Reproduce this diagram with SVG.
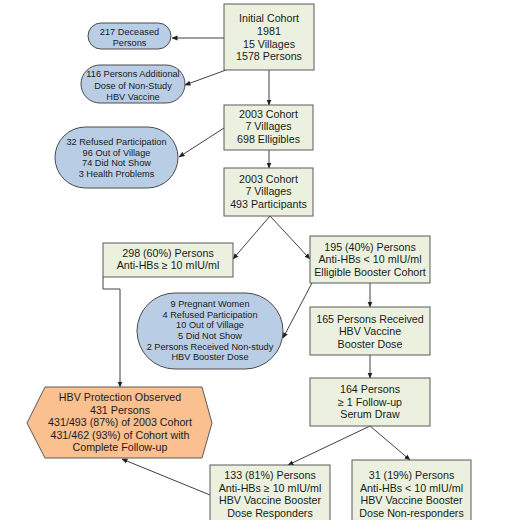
<svg xmlns="http://www.w3.org/2000/svg" width="507" height="520" viewBox="0 0 507 520">
<style>
.box{fill:#EBF1DE;stroke:#5a5a5a;stroke-width:1}
.oval{fill:#B9CDE5;stroke:#4a4a4a;stroke-width:1}
.hex{fill:#FAC090;stroke:#5a5a5a;stroke-width:1}
.t{font-family:"Liberation Sans",Arial,sans-serif;font-size:10.7px;fill:#1a1a1a;text-anchor:middle}
.s{font-family:"Liberation Sans",Arial,sans-serif;font-size:9.2px;fill:#1a1a1a;text-anchor:middle}
.c{fill:none;stroke:#404040;stroke-width:1;marker-end:url(#ah)}
</style>
<defs>
<marker id="ah" markerUnits="userSpaceOnUse" markerWidth="6" markerHeight="6" refX="5.5" refY="3" orient="auto">
<path d="M0,0.5 L6,3 L0,5.5 z" fill="#202020"/>
</marker>
</defs>
<rect width="507" height="520" fill="#ffffff"/>
<g id="connectors">
<line class="c" x1="224" y1="38" x2="172" y2="38"/>
<line class="c" x1="226" y1="70" x2="185" y2="85"/>
<line class="c" x1="269" y1="70" x2="269" y2="105"/>
<line class="c" x1="224" y1="128" x2="179" y2="157"/>
<line class="c" x1="269" y1="150" x2="269" y2="168"/>
<line class="c" x1="270" y1="216" x2="233" y2="259"/>
<line class="c" x1="270" y1="216" x2="310" y2="259"/>
<polyline class="c" points="103,277 103,289 120,289 120,387"/>
<line class="c" x1="370" y1="283" x2="370" y2="307"/>
<line class="c" x1="312" y1="283" x2="283" y2="338"/>
<line class="c" x1="370" y1="355" x2="370" y2="378"/>
<line class="c" x1="370" y1="426" x2="288" y2="465"/>
<line class="c" x1="370" y1="426" x2="410" y2="460"/>
<line class="c" x1="210" y1="495" x2="122" y2="459"/>
</g>
<g id="initial">
<rect class="box" x="224" y="4" width="90" height="66"/>
<text class="t" x="269" y="22.3">Initial Cohort</text>
<text class="t" x="269" y="34.9">1981</text>
<text class="t" x="269" y="47.5">15 Villages</text>
<text class="t" x="269" y="60.1">1578 Persons</text>
</g>
<g id="deceased">
<rect class="oval" x="88" y="23" width="83" height="26" rx="13"/>
<text class="s" x="129.5" y="35">217 Deceased</text>
<text class="s" x="129.5" y="46">Persons</text>
</g>
<g id="additional">
<rect class="oval" x="81" y="65" width="104" height="38" rx="19"/>
<text class="s" x="133" y="77.3">116 Persons Additional</text>
<text class="s" x="133" y="89">Dose of Non-Study</text>
<text class="s" x="133" y="100.3">HBV Vaccine</text>
</g>
<g id="cohort2003a">
<rect class="box" x="224" y="105" width="89" height="45"/>
<text class="t" x="268.5" y="118">2003 Cohort</text>
<text class="t" x="268.5" y="130.3">7 Villages</text>
<text class="t" x="268.5" y="143">698 Elligibles</text>
</g>
<g id="refused">
<rect class="oval" x="55" y="127" width="123" height="61" rx="30.5"/>
<text class="s" x="116.5" y="145.3">32 Refused Participation</text>
<text class="s" x="116.5" y="155.8">96 Out of Village</text>
<text class="s" x="116.5" y="166.3">74 Did Not Show</text>
<text class="s" x="116.5" y="176.8">3 Health Problems</text>
</g>
<g id="cohort2003b">
<rect class="box" x="224" y="168" width="89" height="48"/>
<text class="t" x="268.5" y="183">2003 Cohort</text>
<text class="t" x="268.5" y="195.3">7 Villages</text>
<text class="t" x="268.5" y="207.6">493 Participants</text>
</g>
<g id="protected298">
<rect class="box" x="103" y="243" width="130" height="34"/>
<text class="t" x="168" y="257">298 (60%) Persons</text>
<text class="t" x="168" y="269.3">Anti-HBs ≥ 10 mIU/ml</text>
</g>
<g id="eligible195">
<rect class="box" x="310" y="236" width="120" height="47"/>
<text class="t" x="370" y="251">195 (40%) Persons</text>
<text class="t" x="370" y="263.3">Anti-HBs &lt; 10 mIU/ml</text>
<text class="t" x="370" y="275.6">Elligible Booster Cohort</text>
</g>
<g id="excluded">
<rect class="oval" x="137" y="293" width="146" height="76" rx="38"/>
<text class="s" x="210" y="306.8">9 Pregnant Women</text>
<text class="s" x="210" y="317.5">4 Refused Participation</text>
<text class="s" x="210" y="328.2">10 Out of Village</text>
<text class="s" x="210" y="338.9">5 Did Not Show</text>
<text class="s" x="210" y="349.6">2 Persons Received Non-study</text>
<text class="s" x="210" y="360.3">HBV Booster Dose</text>
</g>
<g id="received165">
<rect class="box" x="310" y="307" width="120" height="48"/>
<text class="t" x="370" y="322.5">165 Persons Received</text>
<text class="t" x="370" y="335">HBV Vaccine</text>
<text class="t" x="370" y="347.5">Booster Dose</text>
</g>
<g id="followup164">
<rect class="box" x="310" y="378" width="120" height="48"/>
<text class="t" x="370" y="393">164 Persons</text>
<text class="t" x="370" y="405.5">≥ 1 Follow-up</text>
<text class="t" x="370" y="418">Serum Draw</text>
</g>
<g id="protection">
<polygon class="hex" points="27,423 45,387 202,387 212,423 202,458 45,458"/>
<text class="t" x="120" y="401">HBV Protection Observed</text>
<text class="t" x="120" y="413.5">431 Persons</text>
<text class="t" x="120" y="426">431/493 (87%) of 2003 Cohort</text>
<text class="t" x="120" y="438.5">431/462 (93%) of Cohort with</text>
<text class="t" x="120" y="451">Complete Follow-up</text>
</g>
<g id="responders">
<rect class="box" x="210" y="465" width="120" height="62"/>
<text class="t" x="270" y="479">133 (81%) Persons</text>
<text class="t" x="270" y="491.5">Anti-HBs ≥ 10 mIU/ml</text>
<text class="t" x="270" y="504">HBV Vaccine Booster</text>
<text class="t" x="270" y="516.5">Dose Responders</text>
</g>
<g id="nonresponders">
<rect class="box" x="352" y="460" width="119" height="67"/>
<text class="t" x="411.5" y="479">31 (19%) Persons</text>
<text class="t" x="411.5" y="491.5">Anti-HBs &lt; 10 mIU/ml</text>
<text class="t" x="411.5" y="504">HBV Vaccine Booster</text>
<text class="t" x="411.5" y="516.5">Dose Non-responders</text>
</g>
</svg>
